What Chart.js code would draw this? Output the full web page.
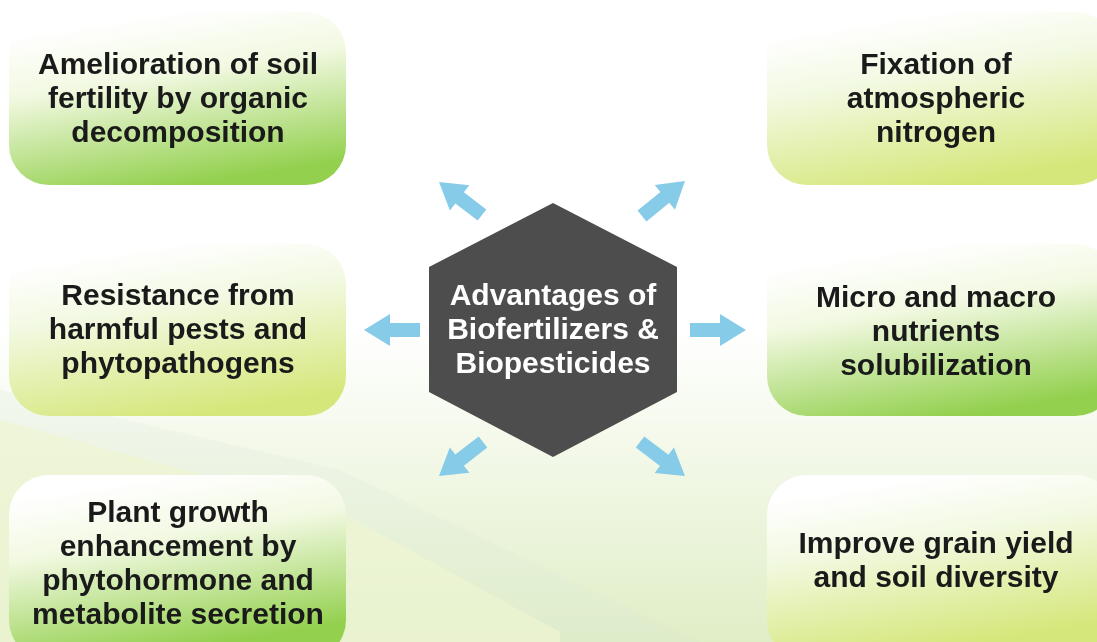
<!DOCTYPE html>
<html><head><meta charset="utf-8">
<script src="https://cdn.jsdelivr.net/npm/chart.js@4.4.1/dist/chart.umd.min.js"></script>
<style>html,body{margin:0;padding:0;background:#fff;overflow:hidden}canvas{display:block}</style>
</head><body>
<canvas id="c" width="1097" height="642"></canvas>
<script>
// ---- content ----
const centerLabel = ["Advantages of", "Biofertilizers &", "Biopesticides"];
const boxLabels = [
  ["Amelioration of soil", "fertility by organic", "decomposition"],
  ["Resistance from", "harmful pests and", "phytopathogens"],
  ["Plant growth", "enhancement by", "phytohormone and", "metabolite secretion"],
  ["Fixation of", "atmospheric", "nitrogen"],
  ["Micro and macro", "nutrients", "solubilization"],
  ["Improve grain yield", "and soil diversity"]
];
// ---- layout (diagram coordinates) ----
const boxX0 = [9, 9, 9, 767, 767, 767];
const boxX1 = [346, 346, 346, 1115, 1115, 1115];
const boxY0 = [12, 244, 475, 12, 244, 475];
const boxY1 = [185, 416, 660, 185, 416, 660];
const boxTone = ["green", "yellow", "green", "yellow", "green", "yellow"];
const textCX = [178, 178, 178, 936, 936, 936];
const textCY = [100, 331, 565, 100, 333, 562];
const arrowFrom = [[482, 215], [642, 216], [420, 330], [690, 330], [483, 442], [640, 442]];
const arrowTo = [[439, 182], [685, 181], [364, 330], [746, 330], [439, 476], [685, 476]];
const hexC = [553, 330];
const hexTextCY = 331;

const tones = {green: "#93d04e", yellow: "#d5e77a"};
const FONT = "bold 30px 'Liberation Sans', Arial, sans-serif";

const diagram = {
  id: "diagram",
  beforeDatasetsDraw(chart) {
    const ctx = chart.ctx, xs = chart.scales.x, ys = chart.scales.y;
    const X = v => xs.getPixelForValue(v), Y = v => ys.getPixelForValue(v);
    // background
    let g = ctx.createLinearGradient(0, Y(330), 0, Y(642));
    g.addColorStop(0, "#ffffff");
    g.addColorStop(1, "#e0eec6");
    ctx.fillStyle = g;
    ctx.fillRect(X(0), Y(0), X(1097) - X(0), Y(642) - Y(0));
    ctx.save();
    ctx.globalAlpha = 0.22;
    ctx.fillStyle = "#dbe9dc";
    ctx.beginPath();
    ctx.moveTo(X(0), Y(390)); ctx.lineTo(X(340), Y(470)); ctx.lineTo(X(700), Y(642)); ctx.lineTo(X(0), Y(642)); ctx.closePath(); ctx.fill();
    ctx.globalAlpha = 0.7;
    ctx.fillStyle = "#eef5d2";
    ctx.beginPath();
    ctx.moveTo(X(0), Y(420)); ctx.lineTo(X(340), Y(512)); ctx.lineTo(X(560), Y(632)); ctx.lineTo(X(560), Y(642)); ctx.lineTo(X(0), Y(642)); ctx.closePath(); ctx.fill();
    ctx.restore();

    // boxes
    for (let i = 0; i < boxLabels.length; i++) {
      const x0 = X(boxX0[i]), x1 = X(boxX1[i]), y0 = Y(boxY0[i]), y1 = Y(boxY1[i]);
      const w = x1 - x0, h = y1 - y0;
      const ref = Math.min(h, 172);
      const gr = ctx.createLinearGradient(x0 + w * 0.47, y0, x0 + w * 0.55, y0 + ref);
      gr.addColorStop(0, "#ffffff");
      gr.addColorStop(0.35, "#f2f9e2");
      gr.addColorStop(1, tones[boxTone[i]]);
      ctx.fillStyle = gr;
      ctx.beginPath();
      ctx.roundRect(x0, y0, w, h, 40);
      ctx.fill();
      ctx.fillStyle = "#1a1a1a";
      ctx.font = FONT;
      ctx.textAlign = "center";
      ctx.textBaseline = "middle";
      const lines = boxLabels[i], lh = 34;
      lines.forEach((t, k) => {
        ctx.fillText(t, X(textCX[i]), Y(textCY[i]) + (k - (lines.length - 1) / 2) * lh);
      });
    }

    // hexagon
    const cx = X(hexC[0]), cy = Y(hexC[1]);
    ctx.fillStyle = "#4d4d4d";
    ctx.beginPath();
    ctx.moveTo(cx, cy - 127);
    ctx.lineTo(cx + 124, cy - 63);
    ctx.lineTo(cx + 124, cy + 62);
    ctx.lineTo(cx, cy + 127);
    ctx.lineTo(cx - 124, cy + 62);
    ctx.lineTo(cx - 124, cy - 63);
    ctx.closePath(); ctx.fill();
    ctx.fillStyle = "#ffffff";
    ctx.font = FONT;
    const ty = Y(hexTextCY);
    centerLabel.forEach((t, k) => ctx.fillText(t, cx, ty + (k - 1) * 34));

    // arrows
    ctx.fillStyle = "#86cbe8";
    for (let i = 0; i < arrowFrom.length; i++) {
      const ax = X(arrowFrom[i][0]), ay = Y(arrowFrom[i][1]);
      const bx = X(arrowTo[i][0]), by = Y(arrowTo[i][1]);
      const L = Math.hypot(bx - ax, by - ay);
      const ang = Math.atan2(by - ay, bx - ax);
      const sw = 7, hw = 16, hl = 26;
      ctx.save();
      ctx.translate(ax, ay); ctx.rotate(ang);
      ctx.beginPath();
      ctx.moveTo(0, -sw); ctx.lineTo(L - hl, -sw); ctx.lineTo(L - hl, -hw);
      ctx.lineTo(L, 0);
      ctx.lineTo(L - hl, hw); ctx.lineTo(L - hl, sw); ctx.lineTo(0, sw);
      ctx.closePath(); ctx.fill();
      ctx.restore();
    }
  }
};

new Chart(document.getElementById("c"), {
  type: "scatter",
  data: { datasets: [{ data: textCX.map((x, i) => ({x, y: textCY[i]})), pointRadius: 0 }] },
  options: {
    responsive: false, animation: false,
    layout: { padding: 0 },
    plugins: { legend: { display: false }, tooltip: { enabled: false } },
    scales: {
      x: { type: "linear", min: 0, max: 1097, display: false },
      y: { type: "linear", min: 0, max: 642, reverse: true, display: false }
    }
  },
  plugins: [diagram]
});
</script>
</body></html>
